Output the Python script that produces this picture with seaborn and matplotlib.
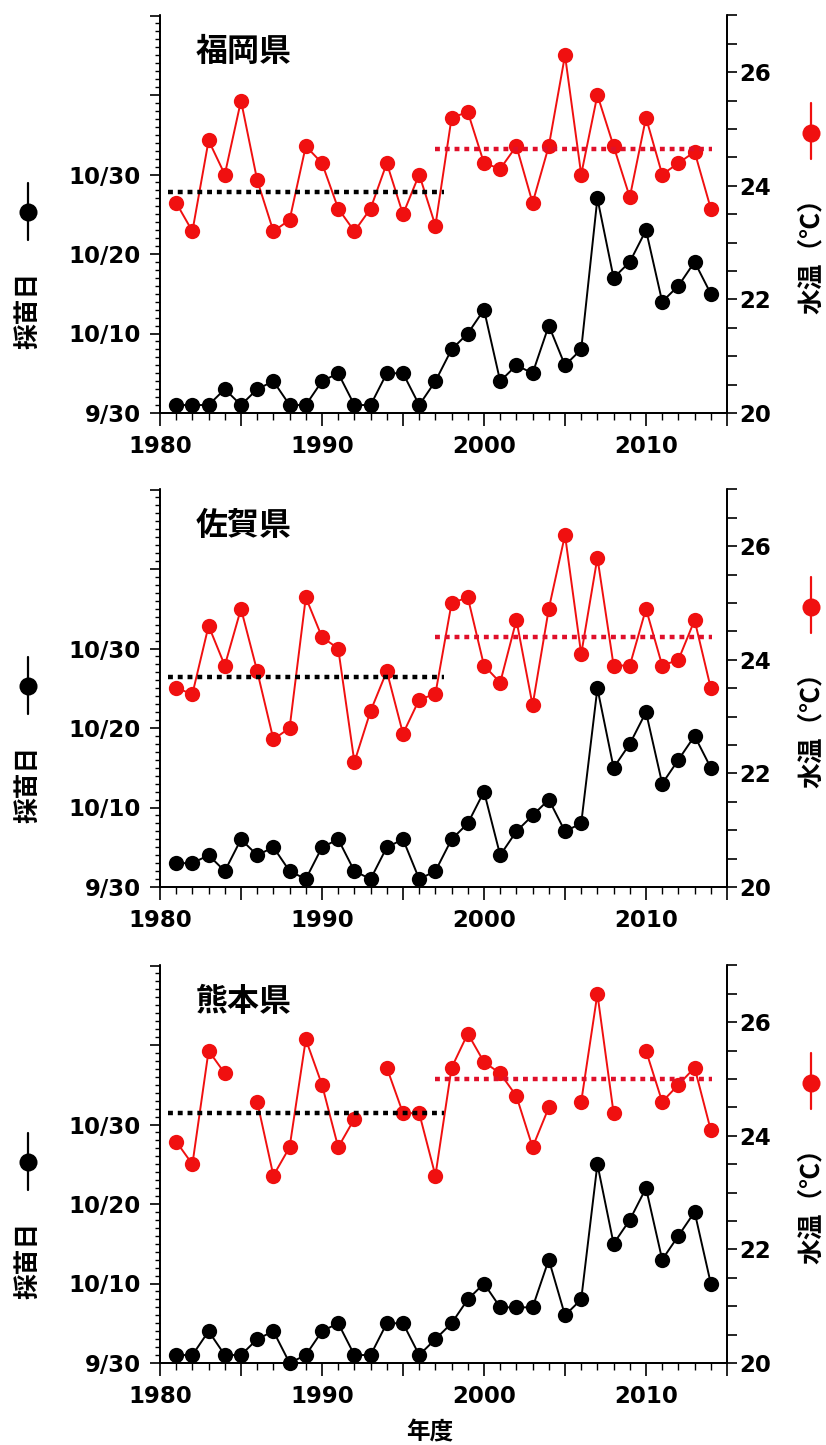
import numpy as np
import pandas as pd
import matplotlib
matplotlib.use('Agg')
import matplotlib.pyplot as plt
import seaborn as sns
from matplotlib.ticker import MultipleLocator, FuncFormatter

sns.set_style('ticks')
plt.rcParams['font.family'] = ['DejaVu Sans', 'Noto Sans CJK JP']
plt.rcParams['font.weight'] = 'bold'
for k in ['text.color', 'axes.labelcolor', 'xtick.color', 'ytick.color', 'axes.edgecolor']:
    plt.rcParams[k] = 'black'
CJK = ['Noto Sans CJK JP', 'DejaVu Sans']

RED = '#f01010'
RED_DOT = '#e0102a'

years = list(range(1981, 2015))

# 採苗日 (9/30 からの日数)
fukuoka_day = [1, 1, 1, 3, 1, 3, 4, 1, 1, 4, 5, 1, 1, 5, 5, 1, 4, 8, 10, 13,
               4, 6, 5, 11, 6, 8, 27, 17, 19, 23, 14, 16, 19, 15]
saga_day = [3, 3, 4, 2, 6, 4, 5, 2, 1, 5, 6, 2, 1, 5, 6, 1, 2, 6, 8, 12,
            4, 7, 9, 11, 7, 8, 25, 15, 18, 22, 13, 16, 19, 15]
kumamoto_day = [1, 1, 4, 1, 1, 3, 4, 0, 1, 4, 5, 1, 1, 5, 5, 1, 3, 5, 8, 10,
                7, 7, 7, 13, 6, 8, 25, 15, 18, 22, 13, 16, 19, 10]

# 水温 (℃)
fukuoka_temp = [23.7, 23.2, 24.8, 24.2, 25.5, 24.1, 23.2, 23.4, 24.7, 24.4,
                23.6, 23.2, 23.6, 24.4, 23.5, 24.2, 23.3, 25.2, 25.3, 24.4,
                24.3, 24.7, 23.7, 24.7, 26.3, 24.2, 25.6, 24.7, 23.8, 25.2,
                24.2, 24.4, 24.6, 23.6]
saga_temp = [23.5, 23.4, 24.6, 23.9, 24.9, 23.8, 22.6, 22.8, 25.1, 24.4,
             24.2, 22.2, 23.1, 23.8, 22.7, 23.3, 23.4, 25.0, 25.1, 23.9,
             23.6, 24.7, 23.2, 24.9, 26.2, 24.1, 25.8, 23.9, 23.9, 24.9,
             23.9, 24.0, 24.7, 23.5]
kumamoto_temp = [23.9, 23.5, 25.5, 25.1, np.nan, 24.6, 23.3, 23.8, 25.7, 24.9,
                 23.8, 24.3, np.nan, 25.2, 24.4, 24.4, 23.3, 25.2, 25.8, 25.3,
                 25.1, 24.7, 23.8, 24.5, np.nan, 24.6, 26.5, 24.4, np.nan, 25.5,
                 24.6, 24.9, 25.2, 24.1]

# 前期 (1981-1997) / 後期 (1998-2014) の平均水温
fukuoka_mean = [23.9, 24.65]
saga_mean = [23.7, 24.4]
kumamoto_mean = [24.4, 25.0]

day_ticks = [0, 10, 20, 30]
day_labels = ['9/30', '10/10', '10/20', '10/30']

panels = [
    ('福岡県', fukuoka_day, fukuoka_temp, fukuoka_mean, 413),
    ('佐賀県', saga_day, saga_temp, saga_mean, 887),
    ('熊本県', kumamoto_day, kumamoto_temp, kumamoto_mean, 1363),
]

W, H = 826, 1445
fig = plt.figure(figsize=(W / 100, H / 100), dpi=100)


def day_fmt(v, pos):
    for t, lab in zip(day_ticks, day_labels):
        if abs(v - t) < 0.01:
            return lab
    return ''


def year_fmt(v, pos):
    v = int(round(v))
    return str(v) if v % 10 == 0 and v < 2015 else ''


def temp_fmt(v, pos):
    return '%d' % v


for name, day, temp, means, ybot in panels:
    ax = fig.add_axes([160 / W, 1 - ybot / H, 567 / W, 397.5 / H])
    df = pd.DataFrame({'year': years, 'day': day, 'temp': temp})
    df['seg'] = df['temp'].isna().cumsum()

    sns.lineplot(data=df, x='year', y='day', ax=ax, color='black', marker='o',
                 markersize=11, markeredgewidth=0, linewidth=1.4, clip_on=False)
    ax.set_xlim(1980, 2015)
    ax.set_ylim(0, 50)
    ax.xaxis.set_major_locator(MultipleLocator(5))
    ax.xaxis.set_minor_locator(MultipleLocator(1))
    ax.yaxis.set_major_locator(MultipleLocator(10))
    ax.yaxis.set_minor_locator(MultipleLocator(1))
    ax.yaxis.set_major_formatter(FuncFormatter(day_fmt))
    ax.xaxis.set_major_formatter(FuncFormatter(year_fmt))
    ax.tick_params(axis='y', which='major', length=7, width=1.2, pad=7, labelsize=16.5)
    ax.tick_params(axis='y', which='minor', length=3.5, width=1.0)
    ax.tick_params(axis='x', which='major', length=9, width=1.2, pad=7, labelsize=16.5)
    ax.tick_params(axis='x', which='minor', length=5, width=1.0)
    ax.set_xlabel('')
    ax.set_ylabel('')
    ax.spines['top'].set_visible(False)
    for s in ax.spines.values():
        s.set_linewidth(1.3)

    ax2 = ax.twinx()
    t = df.dropna(subset=['temp'])
    sns.lineplot(data=t, x='year', y='temp', units='seg', estimator=None, ax=ax2,
                 color=RED, marker='o', markersize=11, markeredgewidth=0,
                 linewidth=1.4, clip_on=False)
    ax2.hlines(means[0], 1980.5, 1997.5, colors='black', linewidth=3.2,
               linestyles=[(0, (1.1, 1.1))], zorder=3)
    ax2.hlines(means[1], 1997.0, 2014.1, colors=RED_DOT, linewidth=3.2,
               linestyles=[(0, (1.1, 1.1))], zorder=3)
    ax2.set_ylim(20, 27)
    ax2.set_xlim(1980, 2015)
    ax2.yaxis.set_major_locator(MultipleLocator(2))
    ax2.yaxis.set_minor_locator(MultipleLocator(0.5))
    ax2.yaxis.set_major_formatter(FuncFormatter(temp_fmt))
    ax2.tick_params(axis='y', which='both', length=7, width=1.2, pad=2, labelsize=16.5)
    ax2.set_ylabel('')
    ax2.set_xlabel('')
    ax2.spines['top'].set_visible(False)
    for s in ax2.spines.values():
        s.set_linewidth(1.3)

    # 県名
    ax.text(0.063, 0.907, name, transform=ax.transAxes, fontsize=23,
            ha='left', va='center', family=CJK, fontweight='bold')

    # 左軸ラベル (記号 + 採苗日)
    ax.plot([-0.233, -0.233], [0.435, 0.578], transform=ax.transAxes,
            color='black', lw=1.6, clip_on=False)
    ax.plot([-0.233], [0.505], 'o', transform=ax.transAxes, color='black',
            ms=13, mew=0, clip_on=False)
    ax.text(-0.233, 0.259, '採苗日', transform=ax.transAxes, rotation=90,
            ha='center', va='center', fontsize=18.5, family=CJK, fontweight='bold')

    # 右軸ラベル (記号 + 水温)
    ax2.plot([1.148, 1.148], [0.638, 0.781], transform=ax2.transAxes,
             color=RED, lw=1.6, clip_on=False)
    ax2.plot([1.148], [0.704], 'o', transform=ax2.transAxes, color=RED,
             ms=13, mew=0, clip_on=False)
    ax2.text(1.148, 0.41, '水温（℃）', transform=ax2.transAxes, rotation=90,
             ha='center', va='center', fontsize=18.5, family=CJK, fontweight='bold')

fig.text(430 / W, 1 - 1432 / H, '年度', ha='center', va='center',
         fontsize=17, family=CJK, fontweight='bold')

fig.savefig('out.png', dpi=100)
